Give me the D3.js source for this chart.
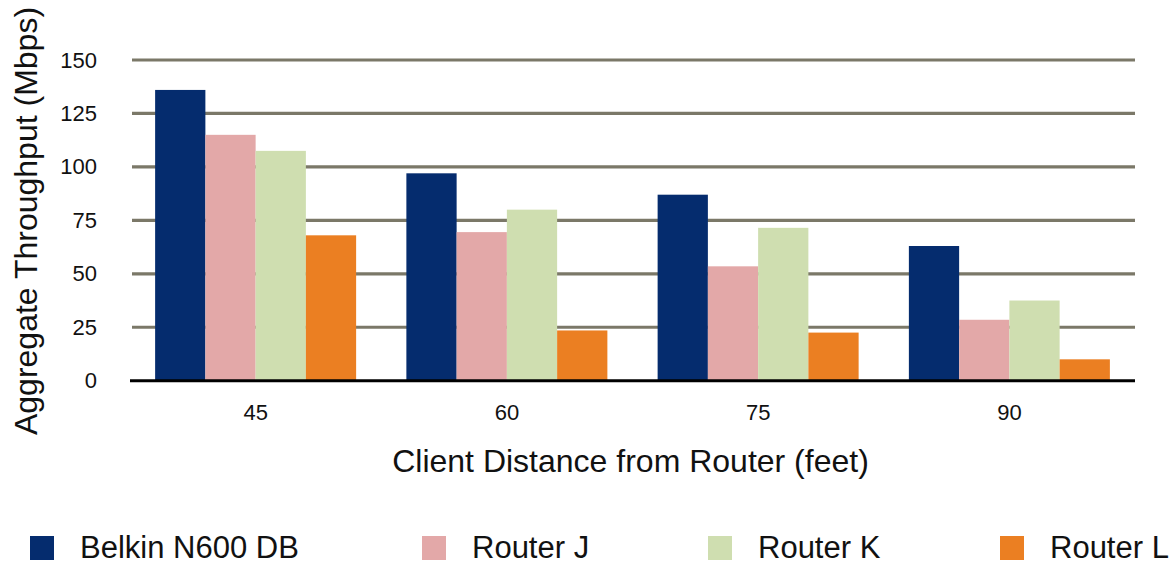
<!DOCTYPE html>
<html>
<head>
<meta charset="utf-8">
<script src="https://cdn.jsdelivr.net/npm/d3@7"></script>
<style>
  html, body { margin: 0; padding: 0; background: #fff; }
  svg { display: block; font-family: "Liberation Sans", Arial, Helvetica, sans-serif; }
</style>
</head>
<body>
<svg id="chart" width="1172" height="565"></svg>
<script>
const categories = ["45", "60", "75", "90"];
const seriesNames = ["Belkin N600 DB", "Router J", "Router K", "Router L"];
const belkin  = [136, 97, 87, 63];
const routerJ = [115, 69.5, 53.5, 28.5];
const routerK = [107.5, 80, 71.5, 37.5];
const routerL = [68, 23.5, 22.5, 10];
const yTicks = [0, 25, 50, 75, 100, 125, 150];
const colors = ["#052c6e", "#e3a8a8", "#cfdeb0", "#eb7f22"];

const seriesValues = [belkin, routerJ, routerK, routerL];

const svg = d3.select("#chart");
const plotLeft = 130, plotRight = 1135, plotTop = 60, plotBottom = 380.7;

const x0 = d3.scaleBand().domain(categories).range([plotLeft, plotRight]).paddingInner(0.2).paddingOuter(0.1);
const x1 = d3.scaleBand().domain(seriesNames).range([0, x0.bandwidth()]).padding(0);
const y = d3.scaleLinear().domain([0, 150]).range([plotBottom, plotTop]);
const color = d3.scaleOrdinal().domain(seriesNames).range(colors);

// gridlines
svg.append("g").selectAll("line").data(yTicks.filter(d => d > 0)).join("line")
  .attr("x1", plotLeft + 2).attr("x2", plotRight)
  .attr("y1", d => y(d)).attr("y2", d => y(d))
  .attr("stroke", "#7b7868").attr("stroke-width", 3.2);

// y tick labels
const yAxis = svg.append("g").attr("transform", `translate(${plotLeft},0)`)
  .call(d3.axisLeft(y).tickValues(yTicks).tickSize(0).tickPadding(33));
yAxis.select(".domain").remove();
yAxis.selectAll("text").attr("font-size", 22).attr("fill", "#111")
  .attr("font-family", "'Liberation Sans', Arial, sans-serif");

// bars
const groups = svg.append("g").selectAll("g").data(categories).join("g")
  .attr("transform", d => `translate(${x0(d)},0)`);
groups.selectAll("rect")
  .data((c, i) => seriesNames.map((s, j) => ({ s, v: seriesValues[j][i] })))
  .join("rect")
  .attr("x", d => x1(d.s))
  .attr("width", x1.bandwidth())
  .attr("y", d => y(d.v))
  .attr("height", d => y(0) - y(d.v))
  .attr("fill", d => color(d.s));

// baseline
svg.append("line").attr("x1", plotLeft).attr("x2", plotRight)
  .attr("y1", y(0)).attr("y2", y(0))
  .attr("stroke", "#000").attr("stroke-width", 3);

// x axis labels
const xAxis = svg.append("g").attr("transform", `translate(0,${y(0)})`)
  .call(d3.axisBottom(x0).tickSize(0).tickPadding(24));
xAxis.select(".domain").remove();
xAxis.selectAll("text").attr("font-size", 22).attr("fill", "#111")
  .attr("font-family", "'Liberation Sans', Arial, sans-serif");

// axis titles
svg.append("text").attr("x", (plotLeft + plotRight) / 2 - 2).attr("y", 472)
  .attr("text-anchor", "middle").attr("font-size", 32).attr("fill", "#111")
  .text("Client Distance from Router (feet)");
svg.append("text")
  .attr("transform", `translate(37,221) rotate(-90)`)
  .attr("text-anchor", "middle").attr("font-size", 32).attr("fill", "#111")
  .text("Aggregate Throughput (Mbps)");

// legend
const legendX = [30, 422, 708, 1000];
const legend = svg.append("g");
seriesNames.forEach((s, i) => {
  const g = legend.append("g").attr("transform", `translate(${legendX[i]},0)`);
  g.append("rect").attr("x", 0).attr("y", 536).attr("width", 24).attr("height", 24).attr("fill", colors[i]);
  g.append("text").attr("x", 50).attr("y", 558)
    .attr("font-size", 31).attr("fill", "#111").text(s);
});
</script>
</body>
</html>
